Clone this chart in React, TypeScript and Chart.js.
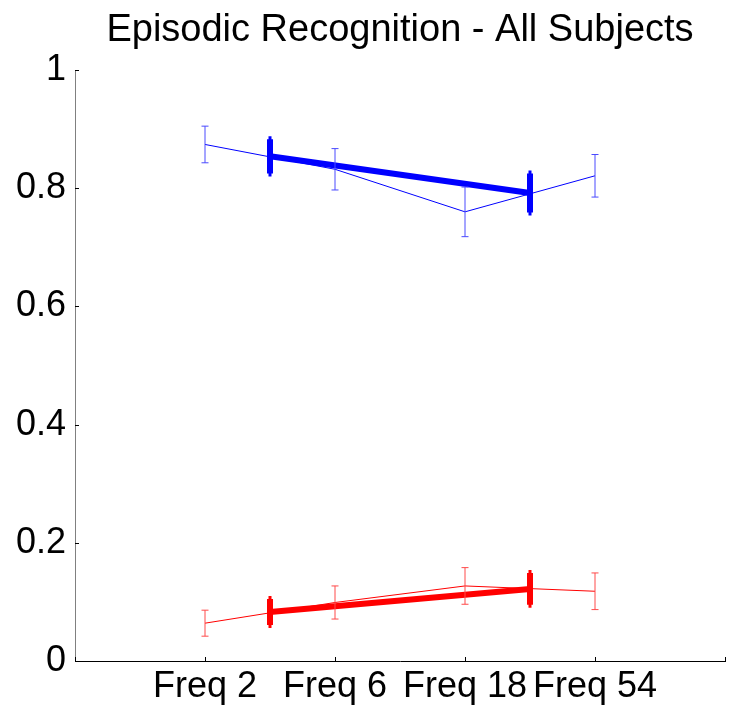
import React, { useEffect, useRef } from "react";
import { Chart, registerables } from "chart.js";

Chart.register(...registerables);

// ---- data ----
const categories = ["Freq 2", "Freq 6", "Freq 18", "Freq 54"];
const categoryX = [1, 2, 3, 4];
const blueMeans = [0.874, 0.832, 0.76, 0.821];
const blueErrors = [0.031, 0.035, 0.042, 0.036];
const redMeans = [0.064, 0.099, 0.127, 0.118];
const redErrors = [0.022, 0.028, 0.031, 0.031];
const summaryX = [1.5, 3.5];
const blueSummaryMeans = [0.854, 0.792];
const blueSummaryErrors = [0.029, 0.033];
const redSummaryMeans = [0.083, 0.122];
const redSummaryErrors = [0.022, 0.027];
const yTicks = [0, 0.2, 0.4, 0.6, 0.8, 1];
const xTicks = [0, 1, 2, 3, 4, 5];

const FONT = "'Liberation Sans', Arial, Helvetica, sans-serif";

const toPoints = (xs: number[], ys: number[]) => xs.map((x, i) => ({ x, y: ys[i] }));

const errorBarPlugin = {
  id: "errorBars",
  afterDatasetsDraw(chart: any) {
    const { ctx, scales } = chart;
    const xs = scales.x;
    const ys = scales.y;
    chart.data.datasets.forEach((ds: any) => {
      if (!ds.errors) return;
      ctx.save();
      ctx.strokeStyle = ds.errorColor;
      ctx.lineWidth = ds.errorWidth;
      ctx.lineCap = "butt";
      ds.data.forEach((p: any, i: number) => {
        const px = xs.getPixelForValue(p.x);
        const top = ys.getPixelForValue(p.y + ds.errors[i]);
        const bot = ys.getPixelForValue(p.y - ds.errors[i]);
        ctx.beginPath();
        ctx.moveTo(px, top);
        ctx.lineTo(px, bot);
        ctx.moveTo(px - ds.capHalf, top);
        ctx.lineTo(px + ds.capHalf, top);
        ctx.moveTo(px - ds.capHalf, bot);
        ctx.lineTo(px + ds.capHalf, bot);
        ctx.stroke();
      });
      ctx.restore();
    });
  },
};

const axisTickPlugin = {
  id: "inwardTicks",
  afterDraw(chart: any) {
    const { ctx, scales, chartArea } = chart;
    ctx.save();
    ctx.strokeStyle = "#000";
    ctx.lineWidth = 1;
    ctx.beginPath();
    yTicks.forEach((v) => {
      const py = Math.round(scales.y.getPixelForValue(v)) + 0.5;
      ctx.moveTo(chartArea.left, py);
      ctx.lineTo(chartArea.left + 4, py);
    });
    xTicks.forEach((v) => {
      const px = Math.round(scales.x.getPixelForValue(v)) + 0.5;
      ctx.moveTo(px, chartArea.bottom);
      ctx.lineTo(px, chartArea.bottom - 4);
    });
    ctx.stroke();
    ctx.restore();
  },
};

export default function App() {
  const ref = useRef<HTMLCanvasElement | null>(null);

  useEffect(() => {
    if (!ref.current) return;
    const chart = new Chart(ref.current, {
      type: "line",
      data: {
        datasets: [
          {
            data: toPoints(categoryX, blueMeans),
            borderColor: "#0000ff",
            borderWidth: 1,
            pointRadius: 0,
            errors: blueErrors,
            errorColor: "#4a4aff",
            errorWidth: 1,
            capHalf: 3.5,
          } as any,
          {
            data: toPoints(categoryX, redMeans),
            borderColor: "#ff0000",
            borderWidth: 1,
            pointRadius: 0,
            errors: redErrors,
            errorColor: "#ff4a4a",
            errorWidth: 1,
            capHalf: 3.5,
          } as any,
          {
            data: toPoints(summaryX, blueSummaryMeans),
            borderColor: "#0000ff",
            borderWidth: 6,
            pointRadius: 0,
            errors: blueSummaryErrors,
            errorColor: "#0000ff",
            errorWidth: 6,
            capHalf: 1.5,
          } as any,
          {
            data: toPoints(summaryX, redSummaryMeans),
            borderColor: "#ff0000",
            borderWidth: 6,
            pointRadius: 0,
            errors: redSummaryErrors,
            errorColor: "#ff0000",
            errorWidth: 6,
            capHalf: 1.5,
          } as any,
        ],
      },
      options: {
        animation: false,
        responsive: false,
        devicePixelRatio: 1,
        layout: { padding: { left: 0, right: 7, top: 0, bottom: 0 } },
        plugins: {
          legend: { display: false },
          tooltip: { enabled: false },
          title: {
            display: true,
            fullSize: false,
            text: "Episodic Recognition - All Subjects",
            color: "#000",
            font: { family: FONT, size: 38, weight: "normal" as any, lineHeight: 1.2 },
            padding: { top: 8, bottom: 16.4 },
          },
        },
        scales: {
          x: {
            type: "linear",
            min: 0,
            max: 5,
            grid: { display: false, drawTicks: false },
            border: { display: true, color: "#000", width: 1 },
            ticks: {
              stepSize: 1,
              autoSkip: false,
              maxRotation: 0,
              minRotation: 0,
              padding: 4,
              color: "#000",
              font: { family: FONT, size: 36 },
              callback: (v: any) => {
                const idx = categoryX.indexOf(Number(v));
                return idx >= 0 ? categories[idx] : "";
              },
            },
            afterFit: (s: any) => {
              s.height = 52;
            },
          },
          y: {
            type: "linear",
            min: 0,
            max: 1,
            grid: { display: false, drawTicks: false },
            border: { display: true, color: "#808080", width: 1 },
            ticks: {
              stepSize: 0.2,
              padding: 9,
              color: "#000",
              font: { family: FONT, size: 36 },
              callback: (v: any) => {
                const n = Number(v);
                if (Math.abs(n) < 1e-9) return "0";
                if (Math.abs(n - 1) < 1e-9) return "1";
                return n.toFixed(1);
              },
            },
            afterFit: (s: any) => {
              s.width = 75;
            },
          },
        },
      } as any,
      plugins: [errorBarPlugin, axisTickPlugin],
    });
    return () => chart.destroy();
  }, []);

  return (
    <div style={{ position: "absolute", left: 0, top: 0, width: 732, height: 713, background: "#fff" }}>
      <canvas ref={ref} width={732} height={713} style={{ display: "block" }} />
    </div>
  );
}
